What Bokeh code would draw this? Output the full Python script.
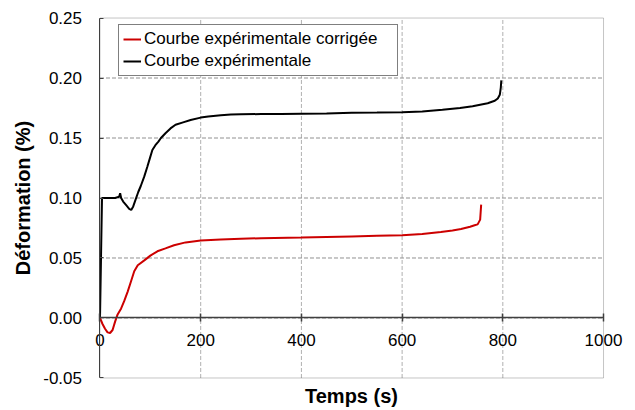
from bokeh.plotting import figure
from bokeh.models import (LinearAxis, FixedTicker, PrintfTickFormatter, Legend,
                          LegendItem, Range1d, BoxAnnotation)
from bokeh.embed import file_html
from bokeh.resources import INLINE

# ---- data ----
time_corr = [0, 5, 10, 15, 20, 25, 30, 35, 42, 48, 55, 62, 68, 75, 88, 100,
             114, 130, 147, 170, 200, 240, 280, 320, 400, 450, 500, 550, 600,
             640, 677, 700, 717, 735, 744, 750, 755, 757]
def_corr = [0.0, -0.005, -0.009, -0.012, -0.0125, -0.010, -0.003, 0.003,
            0.008, 0.014, 0.022, 0.031, 0.039, 0.044, 0.048, 0.052, 0.0556,
            0.058, 0.0606, 0.063, 0.0645, 0.0655, 0.066, 0.0665, 0.067,
            0.0675, 0.068, 0.0685, 0.069, 0.070, 0.0717, 0.073, 0.0742,
            0.076, 0.0773, 0.078, 0.082, 0.0945]

time_exp = [0, 4, 10, 20, 30, 38, 40, 42, 46, 52, 58, 62, 66, 71, 76, 81, 88,
            94, 99, 104, 110, 116, 121, 130, 140, 150, 165, 180, 200, 215,
            240, 260, 280, 320, 360, 400, 450, 500, 550, 600, 640, 680, 715,
            740, 755, 770, 784, 790, 794, 796, 797]
def_exp = [0.0, 0.100, 0.100, 0.100, 0.100, 0.101, 0.104, 0.100, 0.097,
           0.094, 0.091, 0.090, 0.093, 0.099, 0.105, 0.110, 0.118, 0.126,
           0.133, 0.140, 0.144, 0.147, 0.150, 0.154, 0.158, 0.161, 0.163,
           0.165, 0.167, 0.168, 0.169, 0.1695, 0.1697, 0.170, 0.170, 0.1703,
           0.1705, 0.171, 0.1712, 0.1715, 0.172, 0.1735, 0.175, 0.1765,
           0.1778, 0.179, 0.181, 0.183, 0.186, 0.192, 0.198]

series_names = ["Courbe expérimentale corrigée", "Courbe expérimentale"]
x_ticks = [0, 200, 400, 600, 800, 1000]
y_ticks = [-0.05, 0.0, 0.05, 0.10, 0.15, 0.20, 0.25]
x_title = "Temps (s)"
y_title = "Déformation (%)"

# axis limits of the chart area, and the x axis crossing value
x_min, x_max = 0, 1000
y_min, y_max = -0.05, 0.25
x_axis_crossing = 0.0
# view (canvas) extents so that the axes' texts lie inside the drawing area
view_x = (-197.6, 1063.5)
view_y = (-0.0771, 0.2646)

FONT = "Liberation Sans"
AXIS_COL = "#404040"

p = figure(width=635, height=410, output_backend="svg", toolbar_location=None,
           x_range=Range1d(*view_x), y_range=Range1d(*view_y),
           min_border=0, background_fill_color="white",
           border_fill_color="white")
p.outline_line_color = None
p.xgrid.visible = False
p.ygrid.visible = False

# dashed grid limited to the chart area, built from the tick lists
inner_x = [t for t in x_ticks if x_min < t < x_max]
inner_y = [t for t in y_ticks if y_min < t < y_max]
p.segment(x0=inner_x, x1=inner_x, y0=[y_min] * len(inner_x),
          y1=[y_max] * len(inner_x), line_color="#b0b0b0", line_width=1,
          line_dash="4 2")
p.segment(x0=[x_min] * len(inner_y), x1=[x_max] * len(inner_y), y0=inner_y,
          y1=inner_y, line_color="#909090", line_width=1, line_dash="4 2")

# chart frame
p.add_layout(BoxAnnotation(left=x_min, right=x_max, bottom=y_min, top=y_max,
                           fill_alpha=0, line_color=AXIS_COL, line_width=1,
                           level="guide"))

# x axis crossing at y = 0
xa = p.xaxis[0]
xa.fixed_location = x_axis_crossing
xa.bounds = (x_min, x_max)
xa.ticker = FixedTicker(ticks=x_ticks)
xa.major_tick_in = 4
xa.major_tick_out = 4
xa.minor_tick_line_color = None
xa.major_label_standoff = 12
xa.axis_line_color = AXIS_COL
xa.axis_line_width = 1.5
xa.major_tick_line_color = AXIS_COL
xa.major_tick_line_width = 1.5
xa.major_label_text_font = FONT
xa.major_label_text_font_size = "17px"
xa.major_label_text_color = "black"

# bottom axis that only carries the title
title_axis = LinearAxis(fixed_location=y_min, bounds=(x_min, x_max),
                        ticker=FixedTicker(ticks=[]), axis_label=x_title,
                        axis_line_color=None, major_tick_line_color=None,
                        minor_tick_line_color=None,
                        major_label_text_color=None,
                        major_label_standoff=0, major_tick_out=0,
                        minor_tick_out=0, axis_label_standoff=7,
                        axis_label_text_font=FONT,
                        axis_label_text_font_size="20px",
                        axis_label_text_font_style="bold",
                        axis_label_text_color="black")
p.add_layout(title_axis, "below")

ya = p.yaxis[0]
ya.fixed_location = x_min
ya.bounds = (y_min, y_max)
ya.ticker = FixedTicker(ticks=y_ticks)
ya.formatter = PrintfTickFormatter(format="%.2f")
ya.major_tick_in = 4
ya.major_tick_out = 0
ya.minor_tick_line_color = None
ya.major_label_standoff = 18
ya.axis_line_color = AXIS_COL
ya.major_tick_line_color = AXIS_COL
ya.major_label_text_font = FONT
ya.major_label_text_font_size = "17px"
ya.major_label_text_color = "black"
ya.axis_label = y_title
ya.axis_label_standoff = 6
ya.axis_label_text_font = FONT
ya.axis_label_text_font_size = "20px"
ya.axis_label_text_font_style = "bold"
ya.axis_label_text_color = "black"

r_corr = p.line(time_corr, def_corr, line_color="#cc0000", line_width=2)
r_exp = p.line(time_exp, def_exp, line_color="black", line_width=2)

legend = Legend(items=[LegendItem(label=series_names[0], renderers=[r_corr]),
                       LegendItem(label=series_names[1], renderers=[r_exp])],
                location=(118, 334), padding=4, spacing=2, margin=0,
                glyph_width=18, glyph_height=20, label_height=20,
                label_standoff=3, label_width=249,
                border_line_color="black", border_line_width=1,
                background_fill_color="white", background_fill_alpha=1,
                label_text_font=FONT, label_text_font_size="17px",
                label_text_color="black")
p.add_layout(legend)

open("out.html", "w").write(file_html(p, INLINE))
